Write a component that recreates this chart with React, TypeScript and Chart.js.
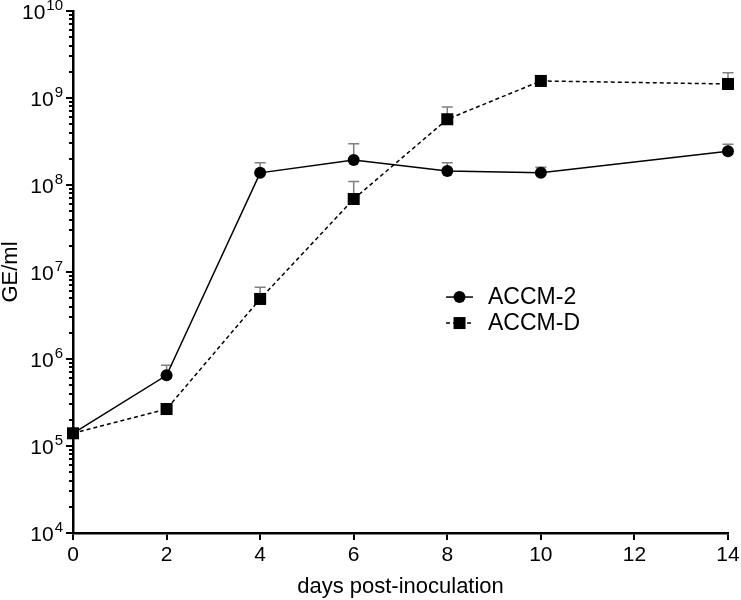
import React, { useEffect, useRef } from "react";
import { Chart, registerables } from "chart.js";

Chart.register(...registerables);

const FONT = "'Liberation Sans', Arial, Helvetica, sans-serif";

const days = [0, 2, 4, 6, 8, 10, 14];
const xTickValues = [0, 2, 4, 6, 8, 10, 12, 14];
const yExponents = [4, 5, 6, 7, 8, 9, 10];

const accm2Values = [1.4e5, 6.5e5, 1.38e8, 1.94e8, 1.45e8, 1.38e8, 2.45e8];
const accm2ErrTop = [null, 8.5e5, 1.8e8, 2.97e8, 1.8e8, 1.6e8, 2.95e8];

const accmDValues = [1.4e5, 2.66e5, 4.9e6, 6.9e7, 5.7e8, 1.57e9, 1.45e9];
const accmDErrTop = [null, null, 6.7e6, 1.1e8, 7.9e8, null, 1.95e9];

const seriesNames = ["ACCM-2", "ACCM-D"];
const seriesMarkers = ["circle", "rect"];
const seriesDash = [[], [4, 3]];
const seriesErr = [accm2ErrTop, accmDErrTop];

const errorBarPlugin = {
  id: "errorBars",
  beforeDatasetsDraw(chart: any) {
    const ctx = chart.ctx;
    const xs = chart.scales.x;
    const ys = chart.scales.y;
    ctx.save();
    ctx.setLineDash([]);
    ctx.strokeStyle = "#7f7f7f";
    ctx.lineWidth = 1.5;
    chart.data.datasets.forEach((ds: any, di: number) => {
      const errs = seriesErr[di];
      ds.data.forEach((pt: any, i: number) => {
        const e = errs[i];
        if (e == null) return;
        const x = xs.getPixelForValue(pt.x);
        const y1 = ys.getPixelForValue(pt.y);
        const y2 = ys.getPixelForValue(e);
        ctx.beginPath();
        ctx.moveTo(x, y1);
        ctx.lineTo(x, y2);
        ctx.moveTo(x - 5.5, y2);
        ctx.lineTo(x + 5.5, y2);
        ctx.stroke();
      });
    });
    ctx.restore();
  },
};

const yAxisPlugin = {
  id: "yAxisLog",
  afterDraw(chart: any) {
    const ctx = chart.ctx;
    const ys = chart.scales.y;
    const axisX = Math.round(chart.chartArea.left) + 1;
    ctx.save();
    ctx.setLineDash([]);
    ctx.fillStyle = "#000";
    for (let n = yExponents[0]; n <= yExponents[yExponents.length - 1]; n++) {
      const yMaj = Math.round(ys.getPixelForValue(Math.pow(10, n)));
      ctx.fillRect(axisX - 8, yMaj - 1, 8, 2);
      if (n < yExponents[yExponents.length - 1]) {
        for (let m = 2; m <= 9; m++) {
          const y = Math.round(ys.getPixelForValue(m * Math.pow(10, n)));
          ctx.fillRect(axisX - 5, y - 1, 5, 2);
        }
      }
    }
    const right = chart.chartArea.left - 10;
    yExponents.forEach((n) => {
      const y = ys.getPixelForValue(Math.pow(10, n));
      const expText = String(n);
      ctx.font = `15px ${FONT}`;
      const expW = ctx.measureText(expText).width;
      ctx.textAlign = "left";
      ctx.textBaseline = "alphabetic";
      ctx.fillText(expText, right - expW, y - 1.5);
      ctx.font = `21px ${FONT}`;
      ctx.textAlign = "right";
      ctx.fillText("10", right - expW - 1, y + 7.5);
    });
    ctx.restore();
  },
};

const legendPlugin = {
  id: "customLegend",
  afterDraw(chart: any) {
    const ctx = chart.ctx;
    const ca = chart.chartArea;
    const x0 = ca.left + (ca.right - ca.left) * 0.5695;
    const y0 = ca.top + (ca.bottom - ca.top) * 0.548;
    ctx.save();
    seriesNames.forEach((name, i) => {
      const y = y0 + i * 26;
      ctx.strokeStyle = "#000";
      ctx.fillStyle = "#000";
      ctx.lineWidth = 1.5;
      ctx.setLineDash(seriesDash[i]);
      ctx.beginPath();
      ctx.moveTo(x0, y);
      ctx.lineTo(x0 + 27, y);
      ctx.stroke();
      ctx.setLineDash([]);
      const cx = x0 + 13.5;
      if (seriesMarkers[i] === "circle") {
        ctx.beginPath();
        ctx.arc(cx, y, 6, 0, Math.PI * 2);
        ctx.fill();
      } else {
        ctx.fillRect(cx - 6, y - 6, 12, 12);
      }
      ctx.font = `23px ${FONT}`;
      ctx.textAlign = "left";
      ctx.textBaseline = "middle";
      ctx.fillText(name, x0 + 42, y + 1);
    });
    ctx.restore();
  },
};

export default function App() {
  const canvasRef = useRef<HTMLCanvasElement | null>(null);

  useEffect(() => {
    if (!canvasRef.current) return;
    Chart.defaults.font.family = FONT;
    Chart.defaults.color = "#000";
    const chart = new Chart(canvasRef.current, {
      type: "line",
      data: {
        datasets: [
          {
            label: seriesNames[0],
            data: days.map((d, i) => ({ x: d, y: accm2Values[i] })),
            borderColor: "#000",
            backgroundColor: "#000",
            borderWidth: 1.5,
            pointStyle: "circle",
            pointRadius: 6,
            pointBackgroundColor: "#000",
            pointBorderColor: "#000",
            pointBorderWidth: 0,
            tension: 0,
            clip: false as any,
          },
          {
            label: seriesNames[1],
            data: days.map((d, i) => ({ x: d, y: accmDValues[i] })),
            borderColor: "#000",
            backgroundColor: "#000",
            borderWidth: 1.5,
            borderDash: [4, 3],
            pointStyle: "rect",
            pointRadius: 8.5,
            pointBackgroundColor: "#000",
            pointBorderColor: "#000",
            pointBorderWidth: 0,
            tension: 0,
            clip: false as any,
          },
        ],
      },
      options: {
        responsive: false,
        animation: false,
        devicePixelRatio: 1,
        layout: { padding: { top: 11, right: 13, left: 0, bottom: 0 } },
        plugins: {
          legend: { display: false },
          tooltip: { enabled: false },
        },
        scales: {
          x: {
            type: "linear",
            min: 0,
            max: 14,
            afterBuildTicks: (scale: any) => {
              scale.ticks = xTickValues.map((v) => ({ value: v }));
            },
            afterFit: (scale: any) => {
              scale.height = 67;
              scale.paddingLeft = 0;
              scale.paddingRight = 0;
            },
            ticks: {
              font: { size: 21, family: FONT },
              color: "#000",
              padding: 3,
              maxRotation: 0,
              autoSkip: false,
            },
            grid: {
              display: true,
              drawOnChartArea: false,
              drawTicks: true,
              tickLength: 7,
              color: "#000",
              lineWidth: 2,
            },
            border: { display: true, color: "#000", width: 2.5 },
            title: {
              display: true,
              text: "days post-inoculation",
              font: { size: 22, family: FONT, lineHeight: 1 },
              color: "#000",
              padding: { top: 0, bottom: 2 },
            },
          },
          y: {
            type: "logarithmic",
            min: 1e4,
            max: 1e10,
            afterFit: (scale: any) => {
              scale.width = 73;
            },
            ticks: { display: false },
            grid: { display: false },
            border: { display: true, color: "#000", width: 2.5 },
            title: {
              display: true,
              text: "GE/ml",
              font: { size: 22, family: FONT, lineHeight: 1 },
              color: "#000",
              padding: { top: 0, bottom: 0 },
            },
          },
        },
      } as any,
      plugins: [errorBarPlugin, yAxisPlugin, legendPlugin],
    });
    return () => chart.destroy();
  }, []);

  return (
    <div style={{ position: "absolute", left: 0, top: 0, width: 741, height: 600, background: "#fff" }}>
      <canvas ref={canvasRef} width={741} height={600} style={{ display: "block" }} />
    </div>
  );
}
